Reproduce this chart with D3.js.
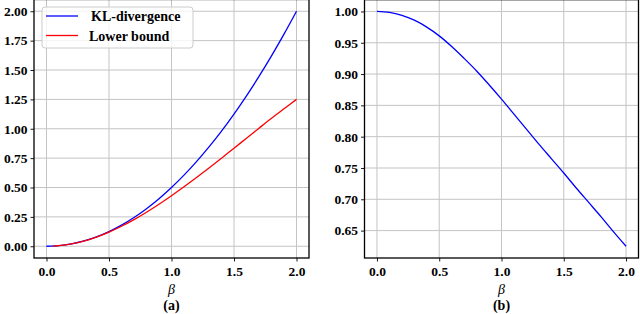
<!DOCTYPE html>
<html><head><meta charset="utf-8">
<script src="https://cdn.jsdelivr.net/npm/d3@7"></script>
<style>
html,body{margin:0;padding:0;background:#fff;}
svg{display:block;}
</style></head>
<body>
<svg id="c" width="640" height="314"></svg>
<script>
const beta = [0,0.1,0.2,0.3,0.4,0.5,0.6,0.7,0.8,0.9,1.0,1.1,1.2,1.3,1.4,1.5,1.6,1.7,1.8,1.9,2.0];
const klValues = [0,0.005,0.02,0.045,0.08,0.125,0.18,0.245,0.32,0.405,0.5,0.605,0.72,0.845,0.98,1.125,1.28,1.445,1.62,1.805,2.0];
const lowerBeta = [0.05,0.1,0.2,0.3,0.4,0.5,0.6,0.7,0.8,0.9,1.0,1.1,1.2,1.3,1.4,1.5,1.6,1.7,1.8,1.9,2.0];
const lowerValues = [0.00125,0.00499,0.01988,0.04437,0.078,0.1201,0.1699,0.2266,0.2896,0.3576,0.430,0.5058,0.5846,0.6659,0.7497,0.8348,0.919,1.0043,1.0886,1.1696,1.25];
const ratioValues = [1.0,0.9985,0.9938,0.986,0.975,0.961,0.944,0.925,0.905,0.883,0.860,0.836,0.812,0.788,0.765,0.742,0.718,0.695,0.672,0.648,0.625];
const xTicks = [0,0.5,1.0,1.5,2.0];
const yTicksA = [0,0.25,0.5,0.75,1.0,1.25,1.5,1.75,2.0];
const yTicksB = [0.65,0.70,0.75,0.80,0.85,0.90,0.95,1.00];
const legendLabels = ["KL-divergence","Lower bound"];
const colors = ["#0000ff","#ff0000"];
const SERIF = "'Liberation Serif', 'Times New Roman', serif";

const svg = d3.select("#c").style("font-family", SERIF);

function panel(opts){
  const {x, y, xTicks, yTicks, series, xlabel, sub} = opts;
  const g = svg.append("g");
  const [x0,x1] = x.range(), [y0,y1] = y.range();
  const clipId = "clip"+Math.round(x0);
  svg.append("clipPath").attr("id",clipId).append("rect")
    .attr("x",x0).attr("y",y1).attr("width",x1-x0).attr("height",y0-y1);
  const grid = g.append("g");
  grid.selectAll(".gx").data(xTicks).join("line")
    .attr("x1",d=>x(d)).attr("x2",d=>x(d)).attr("y1",y0).attr("y2",y1)
    .attr("stroke","#c4c4c4").attr("stroke-width",1);
  grid.selectAll(".gy").data(yTicks).join("line")
    .attr("y1",d=>y(d)).attr("y2",d=>y(d)).attr("x1",x0).attr("x2",x1)
    .attr("stroke","#c4c4c4").attr("stroke-width",1);
  const pl = g.append("g").attr("clip-path",`url(#${clipId})`);
  series.forEach(s=>{
    const line = d3.line().x(d=>x(d[0])).y(d=>y(d[1])).curve(d3.curveCatmullRom);
    pl.append("path").datum(s.xs.map((v,i)=>[v,s.ys[i]]))
      .attr("d",line).attr("fill","none").attr("stroke",s.color).attr("stroke-width",1.3);
  });
  const ax = g.append("g").attr("transform",`translate(0,${y0})`)
    .call(d3.axisBottom(x).tickValues(xTicks).tickFormat(d3.format(".1f")).tickSize(3.5).tickPadding(4.5));
  const ay = g.append("g").attr("transform",`translate(${x0},0)`)
    .call(d3.axisLeft(y).tickValues(yTicks).tickFormat(d3.format(".2f")).tickSize(3.5).tickPadding(3));
  [ax,ay].forEach(a=>{
    a.attr("font-family",null);
    a.select(".domain").remove();
    a.selectAll("line").attr("stroke","#000").attr("stroke-width",0.9);
    a.selectAll("text").style("font-family",SERIF).style("font-weight","bold").style("font-size","13.5px").attr("fill","#000");
  });
  g.append("rect").attr("x",x0).attr("y",y1).attr("width",x1-x0).attr("height",y0-y1)
    .attr("fill","none").attr("stroke","#000").attr("stroke-width",1.3);
  const cx = (x(xTicks[0])+x(xTicks[xTicks.length-1]))/2;
  g.append("text").attr("x",cx).attr("y",294).attr("text-anchor","middle")
    .style("font-family",SERIF).style("font-style","italic").style("font-size","14px").text(xlabel);
  g.append("text").attr("x",cx).attr("y",310).attr("text-anchor","middle")
    .style("font-family",SERIF).style("font-weight","bold").style("font-size","14px").text(sub);
  return g;
}

const xA = d3.scaleLinear().domain([-0.1,2.1]).range([34,309]);
const yA = d3.scaleLinear().domain([-0.1,2.1]).range([258,-0.5]);
const gA = panel({x:xA,y:yA,xTicks,yTicks:yTicksA,xlabel:"β",sub:"(a)",
  series:[{xs:beta,ys:klValues,color:colors[0]},{xs:lowerBeta,ys:lowerValues,color:colors[1]}]});

const xB = d3.scaleLinear().domain([-0.1,2.1]).range([364.5,638.5]);
const yB = d3.scaleLinear().domain([0.60625,1.01875]).range([258,-0.3]);
panel({x:xB,y:yB,xTicks,yTicks:yTicksB,xlabel:"β",sub:"(b)",
  series:[{xs:beta,ys:ratioValues,color:colors[0]}]});

const lg = gA.append("g");
lg.append("rect").attr("x",42).attr("y",7).attr("width",151).attr("height",41).attr("rx",3)
  .attr("fill","#fff").attr("fill-opacity",0.8).attr("stroke","#cccccc").attr("stroke-width",1);
legendLabels.forEach((lab,i)=>{
  const yy = 16 + i*19.5;
  lg.append("line").attr("x1",46).attr("x2",78).attr("y1",yy).attr("y2",yy)
    .attr("stroke",colors[i]).attr("stroke-width",1.3);
  lg.append("text").attr("x",i===0?91:89).attr("y",yy+5)
    .style("font-family",SERIF).style("font-weight","bold").style("font-size","14px").text(lab);
});
</script>
</body></html>
